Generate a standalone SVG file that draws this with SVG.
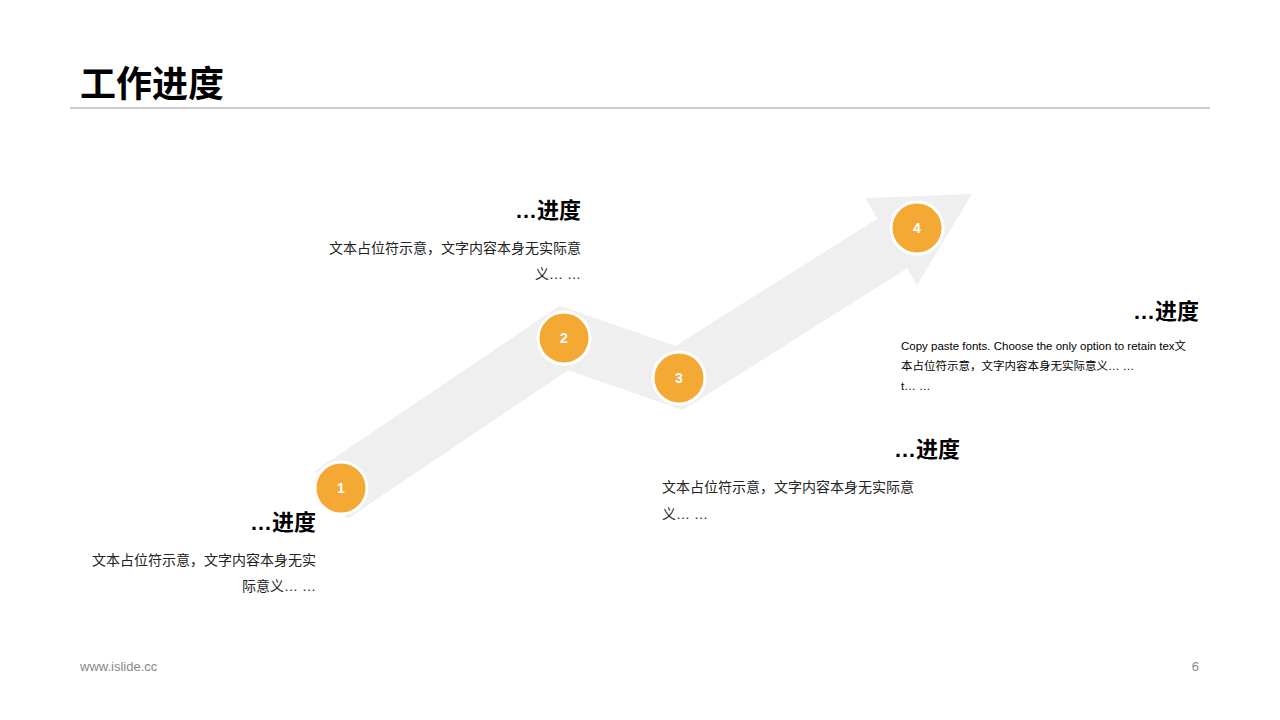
<svg xmlns="http://www.w3.org/2000/svg" width="1280" height="720" viewBox="0 0 1280 720">
<style>
.t{font-family:"Liberation Sans","Noto Sans CJK SC",sans-serif;fill:#000}
.h{font-size:22px;font-weight:bold}
.b{font-size:14px;fill:#222}
.n{font-family:"Liberation Sans",sans-serif;font-size:14px;font-weight:bold;fill:#fff}
circle{fill:#f4a934;stroke:#fff;stroke-width:3}
</style>
<rect width="1280" height="720" fill="#fff"/>
<text class="t" x="80" y="97" font-size="36" font-weight="bold">工作进度</text>
<line x1="70" y1="108" x2="1210" y2="108" stroke="#999" stroke-width="1"/>
<g id="connectors">
<polyline points="331,495 564,338 679,378 893,243" fill="none" stroke="#efefef" stroke-width="58" stroke-linejoin="miter"/>
<polygon points="865,198 972,194 917,285" fill="#efefef"/>
</g>
<g id="n1"><circle cx="341" cy="488" r="26"/><text class="n" x="341" y="493" text-anchor="middle">1</text></g>
<g id="n2"><circle cx="564" cy="338" r="26"/><text class="n" x="564" y="343" text-anchor="middle">2</text></g>
<g id="n3"><circle cx="679" cy="378" r="26"/><text class="n" x="679" y="383" text-anchor="middle">3</text></g>
<g id="n4"><circle cx="917" cy="228" r="26"/><text class="n" x="917" y="233" text-anchor="middle">4</text></g>
<g id="l1"><text class="t h" x="316" y="530" text-anchor="end">…进度</text>
<text class="t b" x="316" y="565" text-anchor="end">文本占位符示意，文字内容本身无实</text>
<text class="t b" x="316" y="591" text-anchor="end">际意义… …</text></g>
<g id="l2"><text class="t h" x="581" y="218" text-anchor="end">…进度</text>
<text class="t b" x="581" y="253" text-anchor="end">文本占位符示意，文字内容本身无实际意</text>
<text class="t b" x="581" y="279" text-anchor="end">义… …</text></g>
<g id="l3"><text class="t h" x="960" y="457" text-anchor="end">…进度</text>
<text class="t b" x="662" y="492">文本占位符示意，文字内容本身无实际意</text>
<text class="t b" x="662" y="519">义… …</text></g>
<g id="l4"><text class="t h" x="1199" y="319" text-anchor="end">…进度</text>
<text class="t" x="901" y="350" font-size="11.5">Copy paste fonts. Choose the only option to retain tex文</text>
<text class="t" x="901" y="370" font-size="11.5">本占位符示意，文字内容本身无实际意义… …</text>
<text class="t" x="901" y="390" font-size="11.5">t… …</text></g>
<text x="80" y="671" font-family="Liberation Sans,sans-serif" font-size="13" fill="#888">www.islide.cc</text>
<text x="1199" y="671" font-family="Liberation Sans,sans-serif" font-size="13" fill="#888" text-anchor="end">6</text>
</svg>
